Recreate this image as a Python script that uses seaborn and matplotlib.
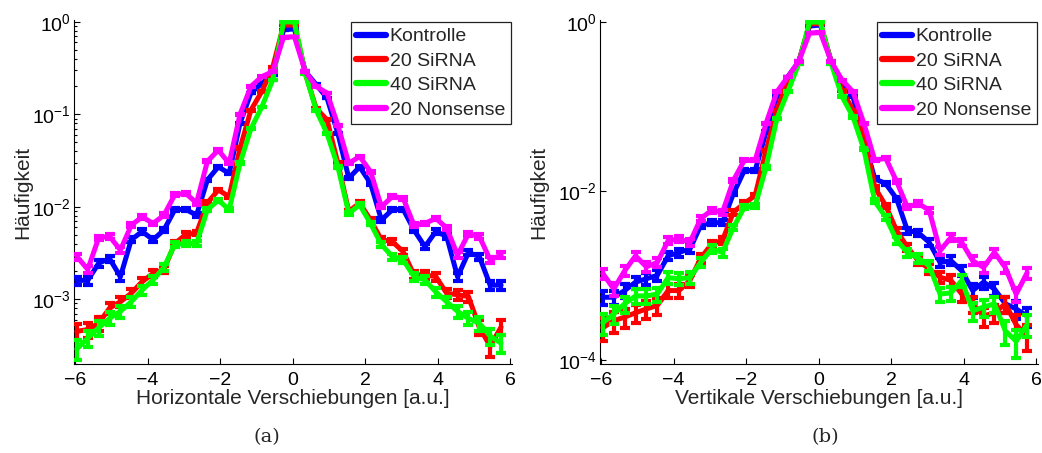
import numpy as np
import pandas as pd
import matplotlib
matplotlib.use("Agg")
import matplotlib.pyplot as plt
import seaborn as sns
from matplotlib.ticker import FixedLocator, NullLocator, LogLocator

# ---------------- data ----------------
series_names = ["Kontrolle", "20 SiRNA", "40 SiRNA", "20 Nonsense"]
series_colors = ["#0000ff", "#ff0000", "#00ff00", "#ff00ff"]

# bin centres of the displacement histograms [a.u.]
shift_bins = np.round(np.arange(40) * 0.3 - 5.95, 2)

# (a) horizontal displacements
horiz_kontrolle = [1.6e-3, 1.6e-3, 2.45e-3, 2.76e-3, 1.75e-3, 4.4e-3, 5.4e-3, 4.4e-3, 5.6e-3, 9.3e-3,
                   9.4e-3, 8.1e-3, 1.95e-2, 2.7e-2, 2.3e-2, 8.0e-2, 0.17, 0.216, 0.266, 0.82,
                   0.84, 0.29, 0.21, 0.15, 0.062, 2.04e-2, 2.7e-2, 1.79e-2, 7.2e-3, 9.3e-3,
                   9.4e-3, 5.6e-3, 3.7e-3, 5.4e-3, 4.8e-3, 1.75e-3, 3.2e-3, 2.9e-3, 1.42e-3, 1.42e-3]
horiz_sirna20 = [4.5e-4, 4.7e-4, 5.5e-4, 8.0e-4, 9.4e-4, 1.16e-3, 1.55e-3, 1.9e-3, 2.1e-3, 4.0e-3,
                 5.0e-3, 5.2e-3, 1.1e-2, 1.52e-2, 1.29e-2, 4.3e-2, 0.111, 0.176, 0.32, 0.92,
                 0.93, 0.277, 0.116, 0.087, 0.0295, 8.9e-3, 1.1e-2, 7.2e-3, 4.4e-3, 4.2e-3,
                 3.27e-3, 1.83e-3, 1.83e-3, 1.76e-3, 1.16e-3, 1.12e-3, 1.07e-3, 5.0e-4, 3.1e-4, 5.0e-4]
horiz_sirna40 = [2.9e-4, 3.8e-4, 4.9e-4, 6.2e-4, 7.4e-4, 9.4e-4, 1.26e-3, 1.62e-3, 2.2e-3, 3.9e-3,
                 4.0e-3, 4.0e-3, 9.3e-3, 1.18e-2, 9.3e-3, 2.95e-2, 0.07, 0.12, 0.235, 1.0,
                 1.0, 0.277, 0.111, 0.062, 0.027, 8.5e-3, 1.05e-2, 6.6e-3, 3.9e-3, 2.9e-3,
                 2.66e-3, 1.76e-3, 1.62e-3, 1.2e-3, 9.4e-4, 7.4e-4, 6.2e-4, 5.5e-4, 4.0e-4, 3.35e-4]
horiz_nonsense = [2.9e-3, 2.1e-3, 4.6e-3, 4.8e-3, 3.4e-3, 6.3e-3, 7.8e-3, 6.6e-3, 8.1e-3, 1.35e-2,
                  1.4e-2, 1.1e-2, 3.1e-2, 4.1e-2, 2.95e-2, 0.10, 0.20, 0.255, 0.29, 0.68,
                  0.69, 0.29, 0.20, 0.17, 0.076, 2.95e-2, 3.5e-2, 2.4e-2, 1.0e-2, 1.29e-2,
                  1.24e-2, 6.3e-3, 6.6e-3, 7.5e-3, 5.9e-3, 3.0e-3, 5.1e-3, 4.8e-3, 2.66e-3, 3.0e-3]

# (b) vertical displacements
vert_kontrolle = [5.5e-4, 5.5e-4, 6.6e-4, 8.3e-4, 9.1e-4, 1.0e-3, 1.7e-3, 1.87e-3, 2.05e-3, 3.9e-3,
                  4.2e-3, 4.2e-3, 9.3e-3, 1.74e-2, 1.74e-2, 5.0e-2, 0.13, 0.224, 0.338, 0.90,
                  0.92, 0.338, 0.187, 0.13, 0.040, 1.39e-2, 1.22e-2, 8.1e-3, 3.4e-3, 3.2e-3,
                  2.46e-3, 1.42e-3, 1.49e-3, 1.13e-3, 6.6e-4, 8.3e-4, 6.9e-4, 4.6e-4, 4.0e-4, 3.3e-4]
vert_sirna20 = [2.4e-4, 2.9e-4, 3.2e-4, 3.6e-4, 4.0e-4, 4.4e-4, 6.6e-4, 6.6e-4, 8.7e-4, 1.6e-3,
                2.35e-3, 2.6e-3, 5.6e-3, 7.1e-3, 8.8e-3, 3.0e-2, 9.0e-2, 0.205, 0.335, 0.95,
                0.96, 0.335, 0.155, 0.09, 0.048, 1.1e-2, 6.7e-3, 3.4e-3, 2.15e-3, 1.49e-3,
                1.19e-3, 9.5e-4, 8.7e-4, 6.0e-4, 4.6e-4, 3.3e-4, 3.6e-4, 4.6e-4, 2.6e-4, 1.9e-4]
vert_sirna40 = [2.75e-4, 3.5e-4, 4.6e-4, 5.7e-4, 5.7e-4, 6.0e-4, 9.4e-4, 9.1e-4, 9.4e-4, 1.42e-3,
                2.05e-3, 1.87e-3, 3.7e-3, 6.4e-3, 6.7e-3, 1.9e-2, 7.2e-2, 0.149, 0.32, 1.0,
                1.0, 0.32, 0.13, 0.075, 0.031, 7.5e-3, 4.9e-3, 2.6e-3, 1.87e-3, 1.6e-3,
                1.3e-3, 6.0e-4, 6.2e-4, 8.7e-4, 3.8e-4, 4.2e-4, 4.6e-4, 2.2e-4, 1.66e-4, 2.6e-4]
vert_nonsense = [1.05e-3, 6.9e-4, 1.13e-3, 1.7e-3, 1.26e-3, 1.42e-3, 2.57e-3, 2.7e-3, 2.46e-3, 4.7e-3,
                 5.9e-3, 5.6e-3, 1.33e-2, 2.3e-2, 2.3e-2, 6.3e-2, 0.149, 0.224, 0.338, 0.74,
                 0.75, 0.338, 0.205, 0.149, 0.063, 2.3e-2, 2.44e-2, 1.3e-2, 6.4e-3, 7.1e-3,
                 5.9e-3, 1.96e-3, 2.8e-3, 2.45e-3, 1.49e-3, 1.24e-3, 1.87e-3, 1.24e-3, 6.0e-4, 1.07e-3]

# counting-statistics scale for the error bars (one event in units of Häufigkeit)
count_unit_horiz = 1.6e-5
count_unit_vert = 2.2e-5

panels = [
    dict(series=[horiz_kontrolle, horiz_sirna20, horiz_sirna40, horiz_nonsense],
         unit=count_unit_horiz, xlabel="Horizontale Verschiebungen [a.u.]",
         ylim=(10 ** -3.70, 10 ** 0.02), caption="(a)"),
    dict(series=[vert_kontrolle, vert_sirna20, vert_sirna40, vert_nonsense],
         unit=count_unit_vert, xlabel="Vertikale Verschiebungen [a.u.]",
         ylim=(10 ** -4.05, 10 ** 0.024), caption="(b)"),
]

# ---------------- style ----------------
sns.set_style("ticks")
plt.rcParams['font.family'] = ['Liberation Sans', 'DejaVu Sans']
plt.rcParams['mathtext.fontset'] = 'custom'
plt.rcParams['mathtext.rm'] = 'Liberation Sans'
plt.rcParams['mathtext.it'] = 'Liberation Sans:italic'
plt.rcParams['mathtext.bf'] = 'Liberation Sans:bold'
plt.rcParams['axes.unicode_minus'] = True

fig = plt.figure(figsize=(10.42, 4.53), dpi=100)
axes_rects = [[0.071, 0.1965, 0.4203, 0.7594], [0.5758, 0.1965, 0.4203, 0.7594]]
caption_x = [0.256, 0.792]
ylabel_pads = [0, 7]

for i, (panel, rect) in enumerate(zip(panels, axes_rects)):
    ax = fig.add_axes(rect)
    for name, color, vals in zip(series_names, series_colors, panel["series"]):
        vals = np.asarray(vals, dtype=float)
        err = np.sqrt(panel["unit"] * vals)
        sns.lineplot(x=shift_bins, y=vals, color=color, linewidth=3.6, label=name,
                     errorbar=None, ax=ax, zorder=3)
        ax.errorbar(shift_bins, vals, yerr=err, fmt='none', ecolor=color,
                    elinewidth=3.0, capsize=3.3, capthick=3.0, zorder=3)
    ax.set_yscale('log')
    ax.set_xlim(-6.03, 6.05)
    ax.set_ylim(*panel["ylim"])
    ax.set_xticks([-6, -4, -2, 0, 2, 4, 6])
    if i == 0:
        ax.yaxis.set_major_locator(FixedLocator([1e-3, 1e-2, 1e-1, 1e0]))
        ax.yaxis.set_minor_locator(LogLocator(base=10, subs=np.arange(2, 10), numticks=20))
    else:
        ax.yaxis.set_major_locator(FixedLocator([1e-4, 1e-2, 1e0]))
        ax.yaxis.set_minor_locator(NullLocator())
    ax.tick_params(axis='both', which='both', direction='in', colors='black',
                   labelsize=14, width=0.8)
    ax.tick_params(axis='both', which='major', length=4.5)
    ax.tick_params(axis='both', which='minor', length=2.5)
    ax.tick_params(axis='y', pad=2)
    ax.tick_params(axis='x', pad=6)
    sns.despine(ax=ax)
    for side in ['left', 'bottom']:
        ax.spines[side].set_color('black')
        ax.spines[side].set_linewidth(0.8)
    ax.set_xlabel(panel["xlabel"], fontsize=15, labelpad=0)
    ax.set_ylabel("Häufigkeit", fontsize=15, labelpad=ylabel_pads[i])

    leg = ax.legend(loc='upper right', bbox_to_anchor=(0.997, 0.993), borderaxespad=0,
                    fontsize=14, handlelength=1.55, handletextpad=0.18,
                    labelspacing=0.35, borderpad=0.28, fancybox=False, framealpha=1)
    leg.get_frame().set_edgecolor('#222222')
    leg.get_frame().set_linewidth(0.9)
    for line in leg.get_lines():
        line.set_linewidth(4.5)

    fig.text(caption_x[i], 0.035, panel["caption"], family='DejaVu Serif',
             fontsize=14, ha='center', va='center')

fig.savefig("out.png", dpi=100)
